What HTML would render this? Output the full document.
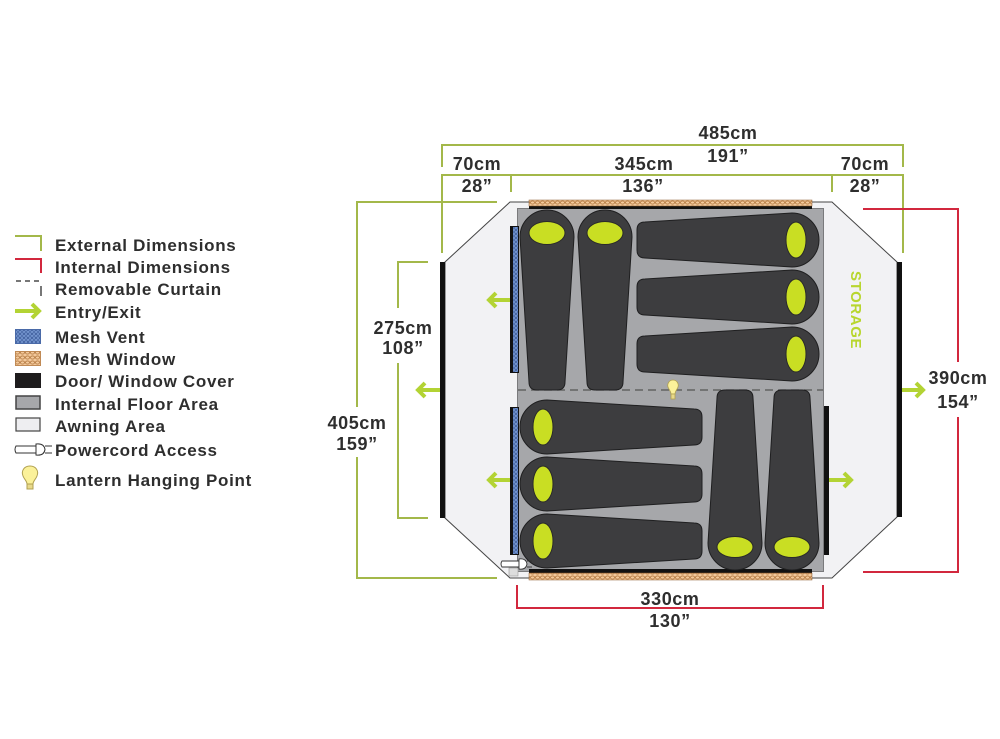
<!DOCTYPE html>
<html><head><meta charset="utf-8"><style>
html,body{margin:0;padding:0;background:#fff;}
svg{display:block;}
text{font-family:"Liberation Sans",Arial,sans-serif;font-weight:bold;fill:#2e2e2e;}
</style></head><body>
<svg width="1000" height="739" viewBox="0 0 1000 739" xmlns="http://www.w3.org/2000/svg">
<defs>
<pattern id="mb" width="4" height="4" patternUnits="userSpaceOnUse">
<rect width="4" height="4" fill="#7d9fd8"/><ellipse cx="2" cy="2" rx="1.6" ry="1.3" fill="none" stroke="#3f5e9c" stroke-width="0.8"/>
</pattern>
<pattern id="mo" width="5" height="5" patternUnits="userSpaceOnUse">
<rect width="5" height="5" fill="#f3c99c"/><ellipse cx="2.5" cy="2.5" rx="2" ry="1.6" fill="none" stroke="#b57c44" stroke-width="0.9"/>
</pattern>
</defs>

<!-- Legend -->
<g stroke-width="2" fill="none">
<polyline points="15,236 41,236 41,251" stroke="#a3b84a"/>
<polyline points="15,259 41,259 41,273" stroke="#d2283e"/>
<line x1="16" y1="281" x2="41" y2="281" stroke="#777" stroke-dasharray="5,4"/>
<line x1="41" y1="286" x2="41" y2="296" stroke="#777"/>
</g>
<g stroke="#b3d334" stroke-width="4" fill="none">
<line x1="15" y1="311" x2="37" y2="311"/>
<polyline points="32,304 39,311 32,318" stroke-linejoin="miter"/>
</g>
<rect x="15.5" y="329.5" width="25" height="14" fill="url(#mb)" stroke="#4a6aa8"/>
<rect x="15.5" y="351.5" width="25" height="14" fill="url(#mo)" stroke="#c08a55"/>
<rect x="15" y="373" width="26" height="15" fill="#1e1c1d"/>
<rect x="16" y="396" width="24" height="13" fill="#a6a7aa" stroke="#444" stroke-width="1.5"/>
<rect x="16" y="418" width="24" height="13" fill="#eeeef1" stroke="#444" stroke-width="1.2"/>
<g stroke="#333" stroke-width="1" fill="#fff">
<path d="M16,446 L36,446 L36,453 L16,453 Q14,449.5 16,446 Z"/>
<path d="M36,444 Q44,443 45,449.5 Q44,456 36,455 Z"/>
<line x1="45" y1="446" x2="52" y2="446"/>
<line x1="45" y1="453" x2="52" y2="453"/>
</g>
<g stroke="#b0a050" stroke-width="1" fill="#fbf19a">
<path d="M30,466 C24,466 21,471 23,476 C24,479 27,481 27,484 L33,484 C33,481 36,479 37,476 C39,471 36,466 30,466 Z"/>
<rect x="27" y="484" width="6" height="5" fill="#e8d98a"/>
</g>
<g font-size="17" letter-spacing="0.7">
<text x="55" y="251">External Dimensions</text>
<text x="55" y="273">Internal Dimensions</text>
<text x="55" y="295">Removable Curtain</text>
<text x="55" y="318">Entry/Exit</text>
<text x="55" y="343">Mesh Vent</text>
<text x="55" y="365">Mesh Window</text>
<text x="55" y="387">Door/ Window Cover</text>
<text x="55" y="410">Internal Floor Area</text>
<text x="55" y="432">Awning Area</text>
<text x="55" y="456">Powercord Access</text>
<text x="55" y="486">Lantern Hanging Point</text>
</g>

<!-- Dimension lines external (green) -->
<g stroke="#a3b84a" stroke-width="2" fill="none">
<polyline points="442,167 442,145 903,145 903,167"/>
<polyline points="442,253 442,175 903,175 903,253"/>
<line x1="511" y1="175" x2="511" y2="192"/>
<line x1="832" y1="175" x2="832" y2="192"/>
<polyline points="497,202 357,202 357,407"/>
<polyline points="357,457 357,578 497,578"/>
<polyline points="428,262 398,262 398,308"/>
<polyline points="398,363 398,518 428,518"/>
</g>
<!-- internal (red) -->
<g stroke="#d2283e" stroke-width="2" fill="none">
<polyline points="863,209 958,209 958,362"/>
<polyline points="958,417 958,572 863,572"/>
<polyline points="517,585 517,608 823,608 823,585"/>
</g>

<!-- Awning -->
<polygon points="510,202 832,202 897,262 897,517 832,578 510,578 445,518 445,262" fill="#f2f2f4" stroke="#444" stroke-width="1"/>
<rect x="440" y="262" width="5" height="256" fill="#111"/>
<rect x="897" y="262" width="5" height="255" fill="#111"/>

<!-- Floor -->
<rect x="517.5" y="208.5" width="306" height="363" fill="#a6a7aa" stroke="#7a7a7c" stroke-width="1"/>

<!-- top & bottom mesh windows -->
<rect x="529" y="206" width="283" height="3" fill="#111"/>
<rect x="529" y="200" width="283" height="6" fill="url(#mo)" stroke="#8a5a30" stroke-width="0.5"/>
<rect x="529" y="569" width="283" height="4" fill="#111"/>
<rect x="529" y="573" width="283" height="7" fill="url(#mo)" stroke="#8a5a30" stroke-width="0.5"/>

<!-- left vents -->
<rect x="510" y="226" width="9" height="147" fill="#111"/>
<rect x="513" y="227" width="5" height="145" fill="url(#mb)"/>
<rect x="510" y="407" width="9" height="148" fill="#111"/>
<rect x="513" y="408" width="5" height="146" fill="url(#mb)"/>
<!-- right floor door -->
<rect x="824" y="406" width="5" height="149" fill="#111"/>

<!-- curtain -->
<line x1="518" y1="390" x2="823" y2="390" stroke="#555" stroke-width="1.2" stroke-dasharray="8,5"/>

<!-- Sleeping bags -->
<g fill="#3d3d3f" stroke="#1f1f20" stroke-width="1">
<path d="M520,237 A27,27 0 0 1 574,237 L565,382 Q565,390 557,390 L537,390 Q529,390 529,382 Z"/>
<path d="M578,237 A27,27 0 0 1 632,237 L623,382 Q623,390 615,390 L595,390 Q587,390 587,382 Z"/>
<path d="M792,213 A27,27 0 0 1 792,267 L645,258 Q637,258 637,250 L637,230 Q637,222 645,222 Z"/>
<path d="M792,270 A27,27 0 0 1 792,324 L645,315 Q637,315 637,307 L637,287 Q637,279 645,279 Z"/>
<path d="M792,327 A27,27 0 0 1 792,381 L645,372 Q637,372 637,364 L637,344 Q637,336 645,336 Z"/>
<path d="M547,400 L694,409 Q702,409 702,417 L702,437 Q702,445 694,445 L547,454 A27,27 0 0 1 547,400 Z"/>
<path d="M547,457 L694,466 Q702,466 702,474 L702,494 Q702,502 694,502 L547,511 A27,27 0 0 1 547,457 Z"/>
<path d="M547,514 L694,523 Q702,523 702,531 L702,551 Q702,559 694,559 L547,568 A27,27 0 0 1 547,514 Z"/>
<path d="M717,398 Q717,390 725,390 L745,390 Q753,390 753,398 L762,543 A27,27 0 0 1 708,543 Z"/>
<path d="M774,398 Q774,390 782,390 L802,390 Q810,390 810,398 L819,543 A27,27 0 0 1 765,543 Z"/>
</g>
<g fill="#c9de23" stroke="#2a2a2a" stroke-width="1">
<ellipse cx="547" cy="233" rx="18" ry="11.5"/>
<ellipse cx="605" cy="233" rx="18" ry="11.5"/>
<ellipse cx="796" cy="240" rx="10" ry="18"/>
<ellipse cx="796" cy="297" rx="10" ry="18"/>
<ellipse cx="796" cy="354" rx="10" ry="18"/>
<ellipse cx="543" cy="427" rx="10" ry="18"/>
<ellipse cx="543" cy="484" rx="10" ry="18"/>
<ellipse cx="543" cy="541" rx="10" ry="18"/>
<ellipse cx="735" cy="547" rx="18" ry="10.5"/>
<ellipse cx="792" cy="547" rx="18" ry="10.5"/>
</g>

<!-- lantern -->
<g stroke="#b0a050" stroke-width="0.8" fill="#fbf19a">
<path d="M673,380 C669,380 667,384 668,387 C669,390 671,391 671,394 L675,394 C675,391 677,390 678,387 C679,384 677,380 673,380 Z"/>
<rect x="671" y="394" width="4" height="5" fill="#e8d98a"/>
</g>

<!-- powercord in tent -->
<rect x="509" y="568" width="9" height="8" fill="#ddd" stroke="#999" stroke-width="0.6"/>
<g stroke="#333" stroke-width="0.9" fill="#fff">
<path d="M502,561 L519,561 L519,567 L502,567 Q500,564 502,561 Z"/>
<path d="M519,559 Q526,558 527,564 Q526,570 519,569 Z"/>
<line x1="527" y1="561" x2="532" y2="561"/>
<line x1="527" y1="567" x2="532" y2="567"/>
</g>

<!-- arrows -->
<g stroke="#b3d334" stroke-width="4" fill="none" stroke-linejoin="miter">
<line x1="420" y1="390" x2="440" y2="390"/><polyline points="425,383 418,390 425,397"/>
<line x1="491" y1="300" x2="510" y2="300"/><polyline points="496,293 489,300 496,307"/>
<line x1="491" y1="480" x2="510" y2="480"/><polyline points="496,473 489,480 496,487"/>
<line x1="829" y1="480" x2="849" y2="480"/><polyline points="844,473 851,480 844,487"/>
<line x1="902" y1="390" x2="921" y2="390"/><polyline points="916,383 923,390 916,397"/>
</g>

<!-- STORAGE -->
<text x="0" y="0" font-size="15" letter-spacing="0.6" style="fill:#b8d62e" transform="translate(851,271) rotate(90)">STORAGE</text>

<!-- dimension labels -->
<g font-size="18" text-anchor="middle" letter-spacing="0.6">
<text x="728" y="139">485cm</text>
<text x="728" y="162">191”</text>
<text x="477" y="170">70cm</text>
<text x="477" y="192">28”</text>
<text x="644" y="170">345cm</text>
<text x="643" y="192">136”</text>
<text x="865" y="170">70cm</text>
<text x="865" y="192">28”</text>
<text x="403" y="334">275cm</text>
<text x="403" y="354">108”</text>
<text x="357" y="429">405cm</text>
<text x="357" y="450">159”</text>
<text x="958" y="384">390cm</text>
<text x="958" y="408">154”</text>
<text x="670" y="605">330cm</text>
<text x="670" y="627">130”</text>
</g>
</svg>
</body></html>
